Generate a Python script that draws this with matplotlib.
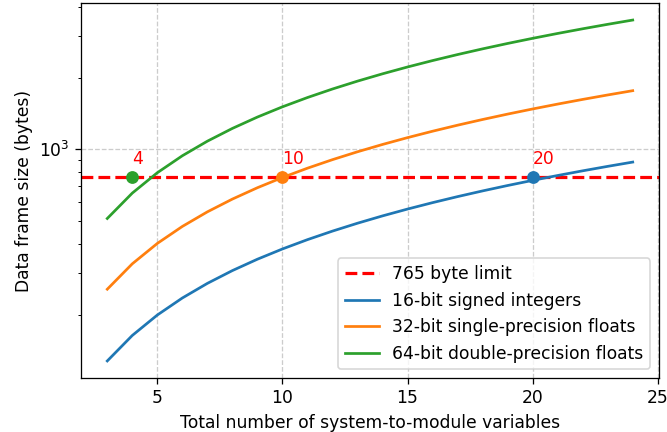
import matplotlib
matplotlib.use("Agg")
import matplotlib.pyplot as plt

n_vars = list(range(3, 25))

int16_sizes = [128, 164, 200, 236, 272, 308, 344, 380, 416, 452, 488,
               524, 560, 596, 632, 668, 704, 740, 776, 812, 848, 884]
float32_sizes = [257, 329, 401, 473, 545, 617, 689, 761, 833, 905, 977,
                 1049, 1121, 1193, 1265, 1337, 1409, 1481, 1553, 1625, 1697, 1769]
float64_sizes = [511, 654, 797, 940, 1083, 1226, 1369, 1512, 1655, 1798, 1941,
                 2084, 2227, 2370, 2513, 2656, 2799, 2942, 3085, 3228, 3371, 3514]

limit = 765
limit_label = "765 byte limit"
series_labels = ["16-bit signed integers", "32-bit single-precision floats",
                 "64-bit double-precision floats"]
max_n = [20, 10, 4]

plt.rcParams["font.size"] = 10.7
dpi = 115
fig = plt.figure(figsize=(667 / dpi, 432 / dpi), dpi=dpi)
ax = fig.add_axes([81 / 667, 1 - 378 / 432, (659 - 81) / 667, (378 - 3) / 432])

ax.axhline(limit, color="red", ls="--", lw=2, label=limit_label)
colors = ["tab:blue", "tab:orange", "tab:green"]
for vals, lab, c in zip([int16_sizes, float32_sizes, float64_sizes], series_labels, colors):
    ax.plot(n_vars, vals, color=c, lw=1.7, label=lab)

for n, c in zip(max_n, colors):
    ax.plot([n], [limit], "o", color=c, markersize=7)
    ax.annotate(str(n), (n, limit), textcoords="offset points", xytext=(0, 8),
                color="red", fontsize=10.7, ha="left", va="baseline")

ax.set_yscale("log")
ax.grid(True, which="major", ls="--", color="#cccccc", lw=0.8)
ax.set_xlabel("Total number of system-to-module variables")
ax.set_ylabel("Data frame size (bytes)")
ax.legend(loc="lower right")

fig.savefig("out.png", dpi=dpi)
